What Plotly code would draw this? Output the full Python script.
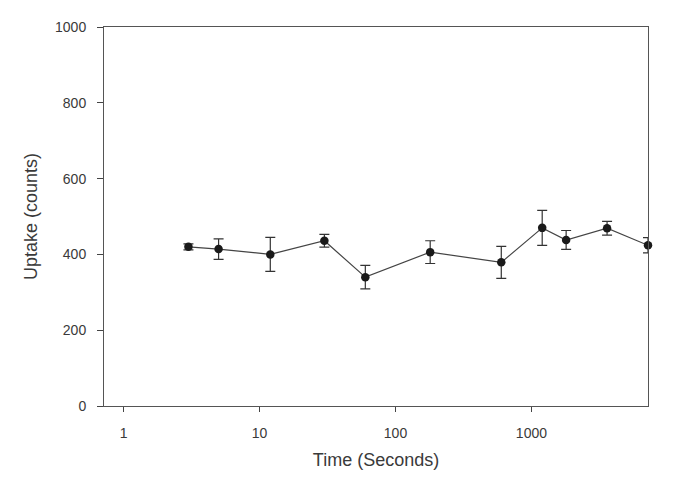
import plotly.graph_objects as go
import math

time_s = [3, 5, 12, 30, 60, 180, 600, 1200, 1800, 3600, 7200]
uptake = [420, 414, 400, 436, 340, 406, 379, 470, 438, 469, 424]
err = [8, 27, 45, 17, 31, 30, 42, 46, 25, 18, 20]
x_ticks = [1, 10, 100, 1000]
x_tick_labels = ["1", "10", "100", "1000"]
y_ticks = [0, 200, 400, 600, 800, 1000]

fig = go.Figure()
fig.add_trace(go.Scatter(
    x=time_s, y=uptake, mode="lines+markers",
    line=dict(color="#444444", width=1.2),
    marker=dict(color="#1a1a1a", size=8.5, symbol="circle"),
    error_y=dict(type="data", array=err, visible=True, color="#333333", thickness=1.2, width=5),
    cliponaxis=False, showlegend=False,
))

font = "Liberation Sans, Arial, sans-serif"
txt = "#3a3a3a"
fig.update_layout(
    width=675, height=478,
    margin=dict(l=104, r=27, t=27, b=72),
    paper_bgcolor="white", plot_bgcolor="white",
    font=dict(family=font, color=txt, size=14),
)
fig.update_xaxes(
    type="log", range=[math.log10(0.718), math.log10(7200)],
    tickvals=x_ticks, ticktext=x_tick_labels,
    ticks="outside", ticklen=5, tickcolor="#444444", tickwidth=1,
    ticklabelstandoff=9,
    showline=True, linecolor="#555555", linewidth=1, mirror=True,
    showgrid=False, zeroline=False,
    tickfont=dict(size=14, color=txt),
    title=dict(text="Time (Seconds)", font=dict(size=18, color=txt), standoff=13),
)
fig.update_yaxes(
    range=[0, 1000], tickvals=y_ticks,
    ticks="outside", ticklen=6, tickcolor="#444444", tickwidth=1,
    ticklabelstandoff=8,
    showline=True, linecolor="#555555", linewidth=1, mirror=True,
    showgrid=False, zeroline=False,
    tickfont=dict(size=14, color=txt),
    title=dict(text="Uptake (counts)", font=dict(size=18, color=txt), standoff=12),
)
fig.write_html("out.html", config={"displayModeBar": False},
               post_script="document.body.style.margin='0';")
